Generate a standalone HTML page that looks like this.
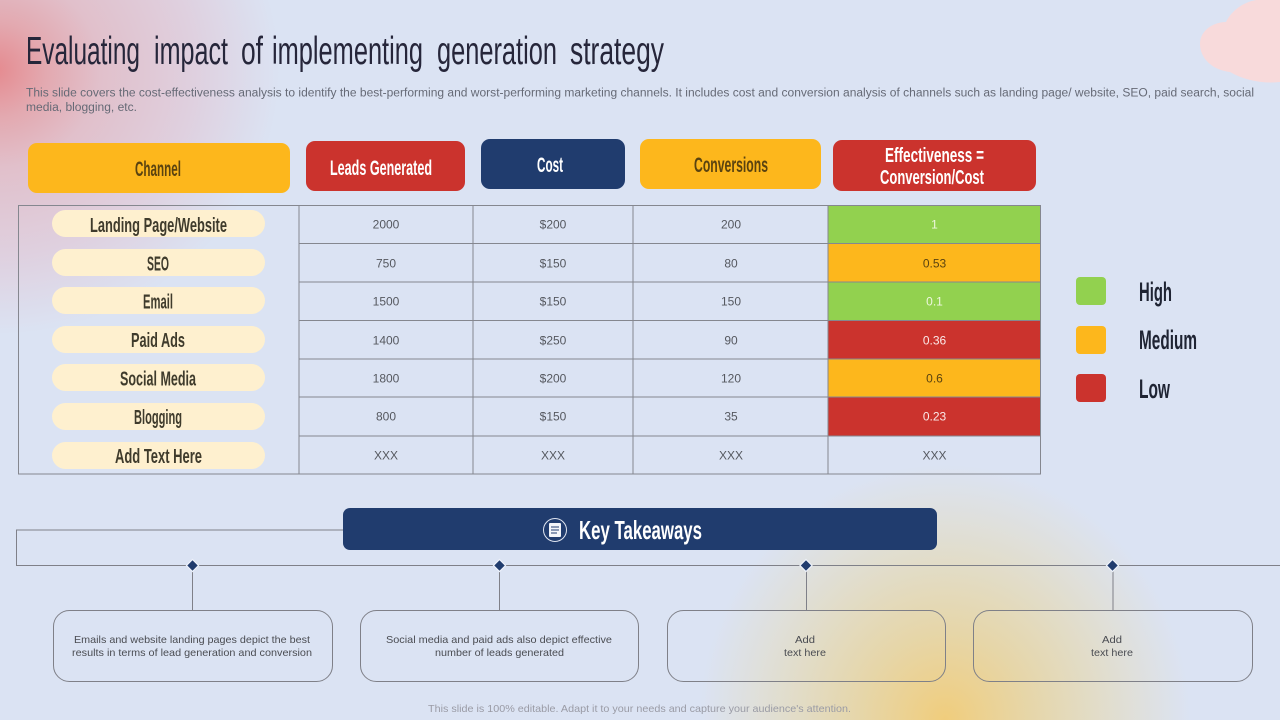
<!DOCTYPE html>
<html lang="en">
<head>
<meta charset="utf-8">
<title>Evaluating impact of implementing generation strategy</title>
<style>
html,body{margin:0;padding:0;width:1280px;height:720px;overflow:hidden;background:#dbe3f3}
svg{display:block}
text{font-family:"Liberation Sans",sans-serif}
.h{font-weight:bold;text-anchor:start}
.c{font-size:12px;fill:#55585f;text-anchor:middle}
.p{font-size:20px;font-weight:bold;fill:#3f3b2c}
.l{font-size:27px;font-weight:bold;fill:#1f2433}
.b{font-size:10.5px;fill:#4a4c52;text-anchor:start}
.e{font-size:12px;text-anchor:middle}
</style>
</head>
<body>
<svg xmlns="http://www.w3.org/2000/svg" width="1280" height="720" viewBox="0 0 1280 720">
<defs>
<radialGradient id="pinkGlow" gradientUnits="userSpaceOnUse" cx="0" cy="0" r="1" gradientTransform="translate(-5 70) scale(285 265)">
<stop offset="0" stop-color="#e58a8f"/>
<stop offset="0.18" stop-color="#e3a9b0"/>
<stop offset="0.37" stop-color="#e1c0cb"/>
<stop offset="0.7" stop-color="#dfd0df"/>
<stop offset="1" stop-color="#dbe3f3"/>
</radialGradient>
<radialGradient id="yellowGlow" gradientUnits="userSpaceOnUse" cx="0" cy="0" r="1" gradientTransform="translate(945 720) scale(245 255)">
<stop offset="0" stop-color="#f0cd7c"/>
<stop offset="0.15" stop-color="#ecd190"/>
<stop offset="0.35" stop-color="#e6d6a9"/>
<stop offset="0.6" stop-color="#e2dcc6"/>
<stop offset="0.8" stop-color="#dfe0dd"/>
<stop offset="1" stop-color="#dbe3f3"/>
</radialGradient>
</defs>
<rect width="1280" height="720" fill="#dbe3f3"/>
<rect width="300" height="350" fill="url(#pinkGlow)"/>
<rect x="690" y="460" width="510" height="260" fill="url(#yellowGlow)"/>
<path d="M1280 0V82C1262 84 1244 80 1230 72C1212 70 1200 58 1200 44C1200 30 1214 22 1226 22C1232 10 1244 2 1256 0Z" fill="#f8dadb"/>

<text y="64" font-size="39" fill="#26263a" lengthAdjust="spacingAndGlyphs"><tspan x="26" textLength="114" lengthAdjust="spacingAndGlyphs">Evaluating</tspan> <tspan x="154" textLength="74" lengthAdjust="spacingAndGlyphs">impact</tspan> <tspan x="241" textLength="22" lengthAdjust="spacingAndGlyphs">of</tspan> <tspan x="272" textLength="151" lengthAdjust="spacingAndGlyphs">implementing</tspan> <tspan x="437" textLength="120" lengthAdjust="spacingAndGlyphs">generation</tspan> <tspan x="570" textLength="94" lengthAdjust="spacingAndGlyphs">strategy</tspan></text>
<text font-size="11.5" fill="#666a76"><tspan x="26" y="96.5" textLength="1228" lengthAdjust="spacingAndGlyphs">This slide covers the cost-effectiveness analysis to identify the best-performing and worst-performing marketing channels. It includes cost and conversion analysis of channels such as landing page/ website, SEO, paid search, social</tspan><tspan x="26" y="111" textLength="111" lengthAdjust="spacingAndGlyphs">media, blogging, etc.</tspan></text>

<g>
<rect x="28" y="143" width="262" height="50" rx="9" fill="#fdb71c"/>
<text class="h" x="135" y="176" font-size="21" fill="#5a4310" textLength="46" lengthAdjust="spacingAndGlyphs">Channel</text>
<rect x="306" y="141" width="159" height="50" rx="9" fill="#cb332d"/>
<text class="h" x="330" y="175" font-size="21" fill="#ffffff" textLength="102" lengthAdjust="spacingAndGlyphs">Leads Generated</text>
<rect x="481" y="139" width="144" height="50" rx="9" fill="#203c6e"/>
<text class="h" x="537" y="172" font-size="21" fill="#ffffff" textLength="26" lengthAdjust="spacingAndGlyphs">Cost</text>
<rect x="640" y="139" width="181" height="50" rx="9" fill="#fdb71c"/>
<text class="h" x="694" y="172" font-size="21" fill="#5a4310" textLength="74" lengthAdjust="spacingAndGlyphs">Conversions</text>
<rect x="833" y="140" width="203" height="51" rx="9" fill="#cb332d"/>
<text class="h" font-size="20" fill="#ffffff"><tspan x="885" y="162" textLength="99" lengthAdjust="spacingAndGlyphs">Effectiveness =</tspan><tspan x="880" y="184" textLength="104" lengthAdjust="spacingAndGlyphs">Conversion/Cost</tspan></text>
</g>

<g>
<rect x="828" y="205" width="213" height="38.5" fill="#92d14f"/>
<rect x="828" y="243.5" width="213" height="38.5" fill="#fdb71c"/>
<rect x="828" y="282" width="213" height="38.5" fill="#92d14f"/>
<rect x="828" y="320.5" width="213" height="38.5" fill="#cb332d"/>
<rect x="828" y="359" width="213" height="38" fill="#fdb71c"/>
<rect x="828" y="397" width="213" height="39" fill="#cb332d"/>
</g>

<g fill="none" stroke="#85878f" stroke-width="1">
<rect x="18.5" y="205.5" width="1022" height="268.5"/>
<path d="M299 205V474M473 205V474M633 205V474M828 205V474M299 243.5H1041M299 282H1041M299 320.5H1041M299 359H1041M299 397H1041M299 436H1041"/>
</g>

<g fill="#fef0cf">
<rect x="52" y="210" width="213" height="27" rx="13.5"/>
<rect x="52" y="249" width="213" height="27" rx="13.5"/>
<rect x="52" y="287" width="213" height="27" rx="13.5"/>
<rect x="52" y="326" width="213" height="27" rx="13.5"/>
<rect x="52" y="364" width="213" height="27" rx="13.5"/>
<rect x="52" y="403" width="213" height="27" rx="13.5"/>
<rect x="52" y="442" width="213" height="27" rx="13.5"/>
</g>
<g>
<text class="p" x="90" y="232" textLength="137" lengthAdjust="spacingAndGlyphs">Landing Page/Website</text>
<text class="p" x="147" y="270.5" textLength="22" lengthAdjust="spacingAndGlyphs">SEO</text>
<text class="p" x="143" y="308.5" textLength="30" lengthAdjust="spacingAndGlyphs">Email</text>
<text class="p" x="131" y="347" textLength="54" lengthAdjust="spacingAndGlyphs">Paid Ads</text>
<text class="p" x="120" y="385.5" textLength="76" lengthAdjust="spacingAndGlyphs">Social Media</text>
<text class="p" x="134" y="424" textLength="48" lengthAdjust="spacingAndGlyphs">Blogging</text>
<text class="p" x="115" y="463" textLength="87" lengthAdjust="spacingAndGlyphs">Add Text Here</text>
</g>

<g>
<text class="c" x="386" y="228.5">2000</text><text class="c" x="553" y="228.5">$200</text><text class="c" x="731" y="228.5">200</text>
<text class="c" x="386" y="267.5">750</text><text class="c" x="553" y="267.5">$150</text><text class="c" x="731" y="267.5">80</text>
<text class="c" x="386" y="305.5">1500</text><text class="c" x="553" y="305.5">$150</text><text class="c" x="731" y="305.5">150</text>
<text class="c" x="386" y="344.5">1400</text><text class="c" x="553" y="344.5">$250</text><text class="c" x="731" y="344.5">90</text>
<text class="c" x="386" y="382.5">1800</text><text class="c" x="553" y="382.5">$200</text><text class="c" x="731" y="382.5">120</text>
<text class="c" x="386" y="420.5">800</text><text class="c" x="553" y="420.5">$150</text><text class="c" x="731" y="420.5">35</text>
<text class="c" x="386" y="459.5">XXX</text><text class="c" x="553" y="459.5">XXX</text><text class="c" x="731" y="459.5">XXX</text>
<text class="e" x="934.5" y="228.5" fill="#eef7de">1</text>
<text class="e" x="934.5" y="267.5" fill="#5a4310">0.53</text>
<text class="e" x="934.5" y="305.5" fill="#eef7de">0.1</text>
<text class="e" x="934.5" y="344.5" fill="#fbe9e8">0.36</text>
<text class="e" x="934.5" y="382.5" fill="#5a4310">0.6</text>
<text class="e" x="934.5" y="420.5" fill="#fbe9e8">0.23</text>
<text class="c" x="934.5" y="459.5">XXX</text>
</g>

<g>
<rect x="1076" y="277" width="30" height="28" rx="4" fill="#92d14f"/>
<text class="l" x="1139" y="301" textLength="33" lengthAdjust="spacingAndGlyphs">High</text>
<rect x="1076" y="326" width="30" height="28" rx="4" fill="#fdb71c"/>
<text class="l" x="1139" y="349" textLength="58" lengthAdjust="spacingAndGlyphs">Medium</text>
<rect x="1076" y="374" width="30" height="28" rx="4" fill="#cb332d"/>
<text class="l" x="1139" y="398" textLength="31" lengthAdjust="spacingAndGlyphs">Low</text>
</g>

<g fill="none" stroke="#7f8088" stroke-width="1">
<path d="M343 530H16.5V565.5H1280"/>
<path d="M192.5 565V610M499.5 565V610M806.5 565V610M1113 565V610"/>
</g>
<g fill="#203c6e" stroke="#eef2fa" stroke-width="1.2">
<path d="M192.5 559.5L198.5 565.5L192.5 571.5L186.5 565.5Z"/>
<path d="M499.5 559.5L505.5 565.5L499.5 571.5L493.5 565.5Z"/>
<path d="M806 559.5L812 565.5L806 571.5L800 565.5Z"/>
<path d="M1112.5 559.5L1118.5 565.5L1112.5 571.5L1106.5 565.5Z"/>
</g>

<rect x="343" y="508" width="594" height="42" rx="7" fill="#203c6e"/>
<g>
<circle cx="555" cy="530" r="11.5" fill="none" stroke="#dfe5f1" stroke-width="1"/>
<rect x="549" y="523" width="12" height="14" rx="1" fill="#f2f4f9"/>
<path d="M551 527H559M551 530H559M551 533H557" stroke="#203c6e" stroke-width="1"/>
</g>
<text class="h" x="579" y="539" font-size="26" fill="#ffffff" textLength="123" lengthAdjust="spacingAndGlyphs">Key Takeaways</text>

<g fill="none" stroke="#7f8088" stroke-width="1">
<rect x="53.5" y="610.5" width="279" height="71" rx="16"/>
<rect x="360.5" y="610.5" width="278" height="71" rx="16"/>
<rect x="667.5" y="610.5" width="278" height="71" rx="16"/>
<rect x="973.5" y="610.5" width="279" height="71" rx="16"/>
</g>
<text class="b"><tspan x="74" y="643" textLength="236" lengthAdjust="spacingAndGlyphs">Emails and website landing pages depict the best</tspan><tspan x="72" y="656" textLength="240" lengthAdjust="spacingAndGlyphs">results in terms of lead generation and conversion</tspan></text>
<text class="b"><tspan x="386" y="643" textLength="226" lengthAdjust="spacingAndGlyphs">Social media and paid ads also depict effective</tspan><tspan x="435" y="656" textLength="129" lengthAdjust="spacingAndGlyphs">number of leads generated</tspan></text>
<text class="b"><tspan x="795" y="643" textLength="20" lengthAdjust="spacingAndGlyphs">Add</tspan><tspan x="784" y="656" textLength="42" lengthAdjust="spacingAndGlyphs">text here</tspan></text>
<text class="b"><tspan x="1102" y="643" textLength="20" lengthAdjust="spacingAndGlyphs">Add</tspan><tspan x="1091" y="656" textLength="42" lengthAdjust="spacingAndGlyphs">text here</tspan></text>

<text x="428" y="712" font-size="10.5" fill="#9a9ba5" textLength="423" lengthAdjust="spacingAndGlyphs">This slide is 100% editable. Adapt it to your needs and capture your audience's attention.</text>
</svg>
</body>
</html>
